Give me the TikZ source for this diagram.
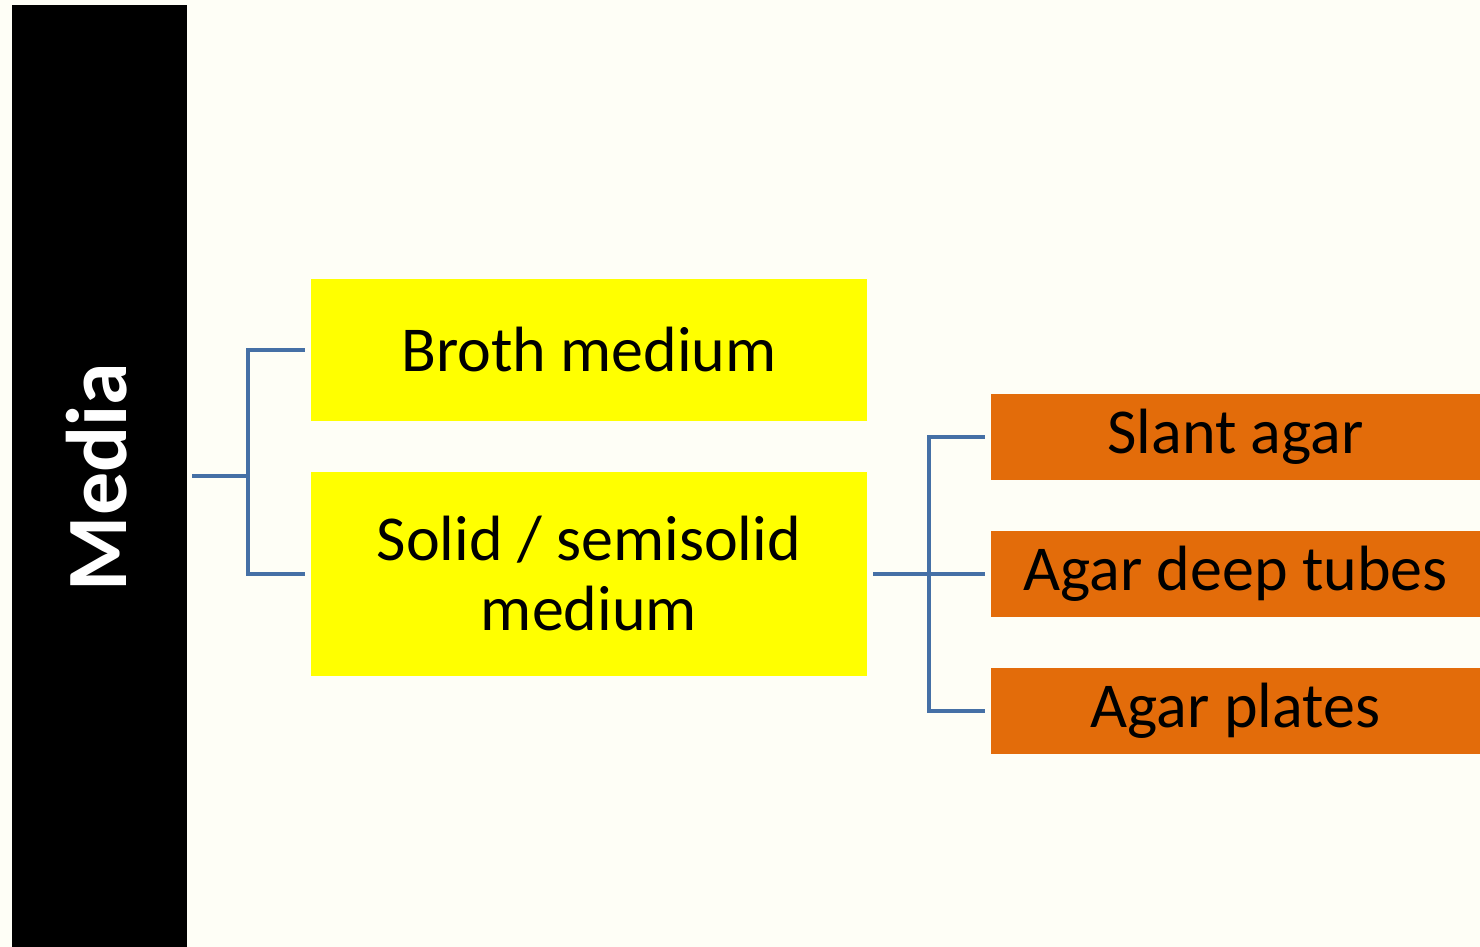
\documentclass[tikz,border=0pt]{standalone}
\usepackage{fontspec}
\setmainfont{Carlito}
\definecolor{bgc}{RGB}{254,254,246}
\definecolor{linec}{RGB}{69,112,166}
\definecolor{yel}{RGB}{255,255,0}
\definecolor{ora}{RGB}{227,108,10}
\begin{document}
\begin{tikzpicture}[x=0.5pt,y=-0.5pt,
  ybox/.style={fill=yel,draw=none,inner sep=0pt,minimum width=278pt,font=\fontsize{32}{35}\selectfont,align=center,text=black},
  obox/.style={fill=ora,draw=none,inner sep=0pt,minimum width=244.5pt,minimum height=43pt,font=\fontsize{32}{35}\selectfont,text=black},
  conn/.style={draw=linec,line width=2pt}]
\fill[bgc] (0,0) rectangle (1480,947);
\useasboundingbox (0,0) rectangle (1480,947);
\node[fill=black,inner sep=0pt,minimum width=87.5pt,minimum height=471pt] (bar) at (99.5,476) {};
\node[rotate=90,text=white,font=\fontsize{43}{45}\selectfont\bfseries] (lbl) at (97,477) {Media};
\node[ybox,minimum height=71pt] (broth) at (589,350) {Broth medium};
\node[ybox,minimum height=102pt] (solid) at (589,574) {Solid / semisolid\\medium};
\node[obox] (slant) at (1235.5,437) {\raisebox{-1pt}{Slant agar}};
\node[obox] (deep) at (1235.5,574) {Agar deep tubes};
\node[obox] (plates) at (1235.5,710.5) {Agar plates};
\coordinate (j1) at (248,476);
\coordinate (j2) at (929,574);
\draw[conn] ([xshift=2.5pt]bar.east) -- (j1);
\draw[conn] ([xshift=-3pt]broth.west) -| (j1) |- ([xshift=-3pt]solid.west);
\draw[conn] ([xshift=3pt]solid.east) -- (j2);
\draw[conn] ([xshift=-3pt]slant.west) -| (j2) |- ([xshift=-3pt]plates.west);
\draw[conn] (j2) -- ([xshift=-3pt]deep.west);
\end{tikzpicture}
\end{document}
